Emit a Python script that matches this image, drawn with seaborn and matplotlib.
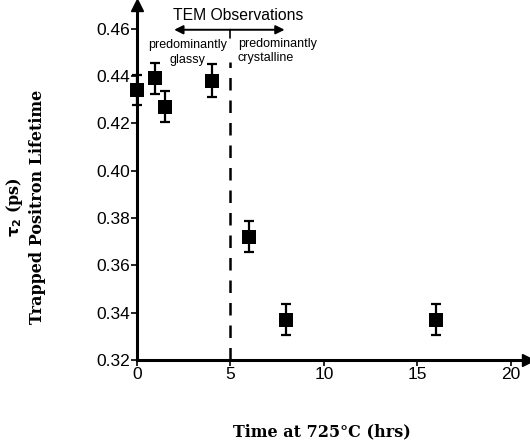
import numpy as np
import matplotlib
matplotlib.use("Agg")
import matplotlib.pyplot as plt
import seaborn as sns

# data
time_hrs = [0, 1, 1.5, 4, 6, 8, 16]
tau2_ps = [0.434, 0.439, 0.427, 0.438, 0.372, 0.337, 0.337]
tau2_err = [0.0065, 0.0065, 0.0065, 0.007, 0.0065, 0.0065, 0.0065]
x_ticks = [0, 5, 10, 15, 20]
y_ticks = [0.32, 0.34, 0.36, 0.38, 0.40, 0.42, 0.44, 0.46]

sns.set_style("ticks")
plt.rcParams["font.family"] = ["Liberation Sans", "DejaVu Sans"]
plt.rcParams["text.color"] = "black"

fig = plt.figure(figsize=(5.3, 4.46), dpi=100)
ax = fig.add_axes([0.258, 0.193, 0.738, 0.796])

# error bars first, then the square markers on top
ax.errorbar(time_hrs, tau2_ps, yerr=tau2_err, fmt="none", ecolor="black",
            elinewidth=1.6, capsize=3.5, capthick=1.6, clip_on=False, zorder=3)
sns.scatterplot(x=time_hrs, y=tau2_ps, marker="s", color="black", s=95,
                edgecolor="black", linewidth=0, ax=ax, zorder=4, clip_on=False)

ax.set_xlim(0, 20.9)
ax.set_ylim(0.32, 0.47)
ax.set_xticks(x_ticks)
ax.set_yticks(y_ticks)
ax.set_xticklabels([str(t) for t in x_ticks])
ax.set_yticklabels([f"{t:.2f}" for t in y_ticks])
ax.tick_params(axis="both", direction="out", length=4, width=1.2,
               labelsize=12.5, colors="black", pad=1)

sns.despine(ax=ax)
ax.spines["left"].set_linewidth(2.2)
ax.spines["bottom"].set_linewidth(2.2)
ax.spines["left"].set_color("black")
ax.spines["bottom"].set_color("black")

# arrow heads at the ends of both axes
ax.plot(1, 0, marker=">", color="black", markersize=9, transform=ax.transAxes, clip_on=False)
ax.plot(0, 1, marker="^", color="black", markersize=9, transform=ax.transAxes, clip_on=False)

# dashed boundary at 5 hrs
ax.plot([5, 5], [0.32, 0.446], color="black", linewidth=1.8,
        linestyle=(0, (5, 4)), zorder=2)

# TEM observations header with double arrow
ax.annotate("", xy=(2.0, 0.4595), xytext=(5, 0.4595),
            arrowprops=dict(arrowstyle="-|>", color="black", lw=1.4,
                            mutation_scale=13, shrinkA=0, shrinkB=0))
ax.annotate("", xy=(7.9, 0.4595), xytext=(5, 0.4595),
            arrowprops=dict(arrowstyle="-|>", color="black", lw=1.4,
                            mutation_scale=13, shrinkA=0, shrinkB=0))
ax.plot([5, 5], [0.4595, 0.456], color="black", linewidth=1.2)
ax.text(5.4, 0.4625, "TEM Observations", ha="center", va="bottom", fontsize=11.3)
ax.text(2.7, 0.4500, "predominantly\nglassy", ha="center", va="center",
        fontsize=9, linespacing=1.35)
ax.text(5.4, 0.4505, "predominantly\ncrystalline", ha="left", va="center",
        fontsize=9, linespacing=1.2)

# axis labels in serif
serif = ["DejaVu Serif"]
fig.text(0.608, 0.032, "Time at 725°C (hrs)", ha="center", va="center",
         fontsize=11.5, family=serif, fontweight="bold")
fig.text(0.028, 0.536, r"$\mathbf{\tau_2}$ (ps)", ha="center", va="center",
         rotation=90, fontsize=11.5, family=serif, fontweight="bold")
fig.text(0.07, 0.536, "Trapped Positron Lifetime", ha="center", va="center",
         rotation=90, fontsize=11.5, family=serif, fontweight="bold")

fig.savefig("out.png", dpi=100)
